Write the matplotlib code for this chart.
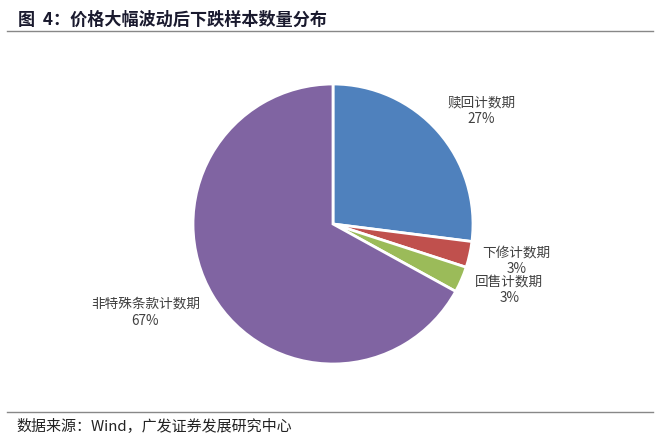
import matplotlib.pyplot as plt
import numpy as np

plt.rcParams['font.family'] = ['Noto Sans CJK SC', 'DejaVu Sans']

# data
labels = ['赎回计数期', '下修计数期', '回售计数期', '非特殊条款计数期']
shares = [27, 3, 3, 67]
colors = ['#4F81BD', '#C0504D', '#9BBB59', '#8064A2']
# label positions in pie-radius units
label_xy = [(1.06, 0.81), (1.31, -0.26), (1.26, -0.47), (-1.34, -0.63)]

W, H = 660, 443
fig = plt.figure(figsize=(W / 100, H / 100), dpi=100)

# pie axes: centre at (333, 224) px from top-left, radius 140 px
cx, cy, r = 333, H - 224, 140
ax_b, ax_t = 43, 403
ax = fig.add_axes([0, ax_b / H, 1, (ax_t - ax_b) / H])
wedges, _ = ax.pie(shares, colors=colors, startangle=90, counterclock=False,
                   wedgeprops=dict(edgecolor='white', linewidth=2))
ax.set_xlim(-cx / r, (W - cx) / r)
ax.set_ylim((ax_b - cy) / r, (ax_t - cy) / r)
ax.set_aspect('auto')

for lab, s, (x, y) in zip(labels, shares, label_xy):
    ax.text(x, y, f'{lab}\n{s}%', ha='center', va='center', fontsize=9.8,
            color='#404040', linespacing=1.25)

# title and source
fig.text(18 / W, 1 - 20 / H, '图  4：价格大幅波动后下跌样本数量分布', fontsize=12.3,
         fontweight='bold', va='center', ha='left', color='#1a1a2e')
fig.add_artist(plt.Line2D([7 / W, 653 / W], [1 - 31 / H, 1 - 31 / H],
                          color='#888888', linewidth=1))
fig.add_artist(plt.Line2D([7 / W, 653 / W], [1 - 412 / H, 1 - 412 / H],
                          color='#888888', linewidth=1))
fig.text(16 / W, 1 - 426 / H, '数据来源：Wind，广发证券发展研究中心', fontsize=10.8,
         va='center', ha='left', color='#222222')

fig.savefig('out.png', dpi=100)
